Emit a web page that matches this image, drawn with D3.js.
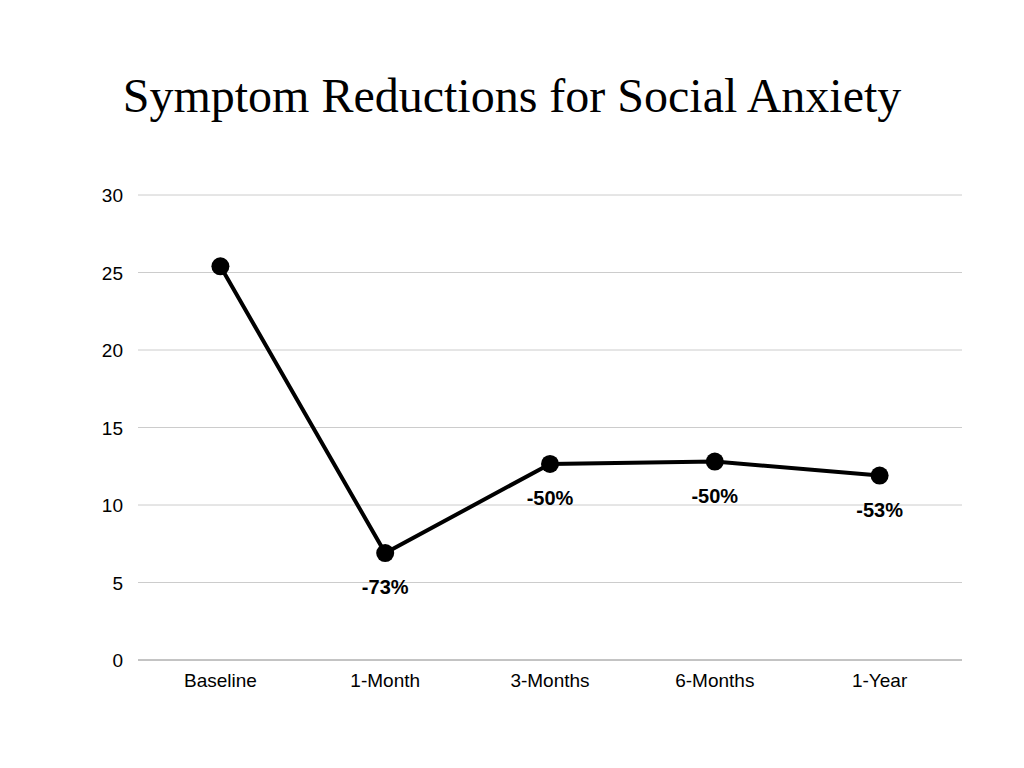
<!DOCTYPE html>
<html>
  <head>
    <script src="https://cdn.jsdelivr.net/npm/d3@7"></script>
    <style>
      body { margin: 0; background: #fff; }
      text { font-family: "Liberation Sans", Helvetica, Arial, sans-serif; }
    </style>
  </head>
  <body>
    <svg id="chart" width="1024" height="768"></svg>
    <script>

      var categories = ["Baseline", "1-Month", "3-Months", "6-Months", "1-Year"];
      var scores = [25.4, 6.9, 12.65, 12.8, 11.9];
      var reductions = ["", "-73%", "-50%", "-50%", "-53%"];
      var yTicks = [0, 5, 10, 15, 20, 25, 30];

      var svg = d3.select("#chart");
      var plotLeft = 138, plotRight = 962, plotTop = 195, plotBottom = 660;

      var x = d3.scaleBand().domain(categories).range([plotLeft, plotRight]);
      var y = d3.scaleLinear().domain([0, 30]).range([plotBottom, plotTop]);

      svg.append("text")
        .attr("x", 512).attr("y", 112)
        .attr("text-anchor", "middle")
        .style("font-family", "'Liberation Serif', 'DejaVu Serif', serif")
        .style("font-size", "48px")
        .text("Symptom Reductions for Social Anxiety");

      // gridlines
      svg.selectAll("line.grid")
        .data(yTicks)
        .enter().append("line")
        .attr("x1", plotLeft).attr("x2", plotRight)
        .attr("y1", function(d) { return y(d); })
        .attr("y2", function(d) { return y(d); })
        .attr("stroke", function(d) { return d === 0 ? "#888" : "#ccc"; })
        .attr("stroke-width", 1);

      svg.selectAll("text.ylab")
        .data(yTicks)
        .enter().append("text")
        .attr("x", 123)
        .attr("y", function(d) { return y(d) + 7; })
        .attr("text-anchor", "end")
        .style("font-size", "19px")
        .text(function(d) { return d; });

      svg.selectAll("text.xlab")
        .data(categories)
        .enter().append("text")
        .attr("x", function(d) { return x(d) + x.bandwidth() / 2; })
        .attr("y", 687)
        .attr("text-anchor", "middle")
        .style("font-size", "19px")
        .text(function(d) { return d; });

      var pts = categories.map(function(c, i) {
        return { cat: c, v: scores[i], lab: reductions[i] };
      });

      svg.append("path")
        .datum(pts)
        .attr("fill", "none")
        .attr("stroke", "#000")
        .attr("stroke-width", 4)
        .attr("d", d3.line()
          .x(function(d) { return x(d.cat) + x.bandwidth() / 2; })
          .y(function(d) { return y(d.v); }));

      svg.selectAll("circle")
        .data(pts)
        .enter().append("circle")
        .attr("cx", function(d) { return x(d.cat) + x.bandwidth() / 2; })
        .attr("cy", function(d) { return y(d.v); })
        .attr("r", 9)
        .attr("fill", "#000");

      svg.selectAll("text.pct")
        .data(pts)
        .enter().append("text")
        .attr("x", function(d) { return x(d.cat) + x.bandwidth() / 2; })
        .attr("y", function(d) { return y(d.v) + 41; })
        .attr("text-anchor", "middle")
        .style("font-size", "20px")
        .style("font-weight", "bold")
        .text(function(d) { return d.lab; });

    </script>
  </body>
</html>
